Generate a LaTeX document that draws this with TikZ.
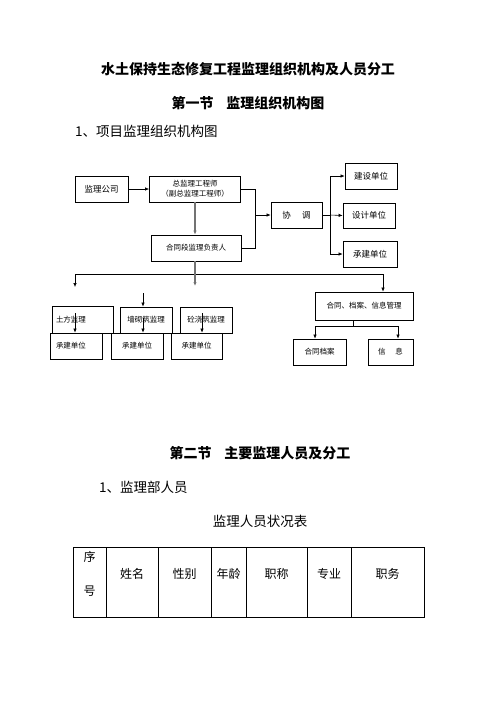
\documentclass[tikz,border=0pt]{standalone}
\usepackage{fontspec}
\setmainfont{Noto Sans CJK SC}
\usetikzlibrary{arrows.meta,positioning}

\begin{document}
\begin{tikzpicture}[x=1pt, y=-1pt,
    box/.style={draw, line width=0.7pt, minimum height=26pt, inner sep=1pt,
                align=center, font=\fontsize{7.5}{10}\selectfont},
    bigbox/.style={box, font=\fontsize{8.5}{10}\selectfont},
    line/.style={-{Latex[length=4pt,width=3.4pt]}, line width=0.6pt},
    bar/.style={line width=0.6pt},
    gline/.style={line, draw=black!55, line width=1.3pt},
    heading/.style={inner sep=0pt, font=\fontsize{14}{16}\selectfont\bfseries},
    bodytext/.style={inner sep=0pt, font=\fontsize{13.5}{16}\selectfont},
    cell/.style={draw, line width=0.8pt, minimum height=70pt, inner sep=0pt,
                 outer sep=0pt},
    celltext/.style={inner sep=0pt, align=center, yshift=8pt,
                     font=\fontsize{12}{14}\selectfont}
]
    \useasboundingbox (0,0) rectangle (496,702);

    % headings
    \node[heading] (title) at (248,69) {水土保持生态修复工程监理组织机构及人员分工};
    \node[heading] (sec1) at (248,103) {第一节\hspace{0.9em}监理组织机构图};
    \node[bodytext, anchor=west] (item1) at (75,131) {1、项目监理组织机构图};

    % chart
    \node[bigbox, minimum width=53pt] (company) at (101.5,189) {监理公司};
    \node[box, minimum width=91pt] (chief) at (195,189) {总监理工程师\\（副总监理工程师）};
    \node[box, minimum width=90pt] (section) at (196,248) {合同段监理负责人};
    \node[bigbox, minimum width=51pt] (coord) at (296.5,215) {协\hspace{1.3em}调};
    \node[bigbox, minimum width=52pt] (owner) at (371,176) {建设单位};
    \node[bigbox, minimum width=52pt, minimum height=25pt] (design) at (369,215.5) {设计单位};
    \node[bigbox, minimum width=54pt] (builder) at (370,254) {承建单位};
    \node[box, minimum width=98pt, minimum height=28pt] (info) at (364,306) {合同、档案、信息管理};
    \node[box, minimum width=53pt] (archive) at (319.5,352) {合同档案};
    \node[box, minimum width=45pt] (news) at (390.5,352) {信\hspace{1.3em}息};
    \node[box, minimum width=61pt, minimum height=27pt, text width=53pt, align=left] (earth) at (82.5,319.5) {土方监理};
    \node[box, minimum width=52pt] (wall) at (146,320) {墙砌筑监理};
    \node[box, minimum width=52pt] (concrete) at (206,320) {砼浇筑监理};
    \node[box, minimum width=52pt, text width=40pt, align=left] (cb1) at (76,346) {承建单位};
    \node[box, minimum width=52pt] (cb2) at (137,346) {承建单位};
    \node[box, minimum width=51pt] (cb3) at (196.5,346) {承建单位};

    \coordinate (bracktop) at (255,189);
    \coordinate (brackbot) at (255,248);
    \coordinate (fork) at (330,215);
    \coordinate (drop) at (195,286);
    \coordinate (busL) at (75,274);
    \coordinate (busR) at (383,274);
    \coordinate (busLend) at (75,287);
    \coordinate (wallin) at (143,293);
    \coordinate (earthin) at (75,313);
    \coordinate (wallin2) at (143,318);
    \coordinate (concin) at (202,313);
    \coordinate (infosplit) at (353,326);
    \coordinate (archL) at (315,326);
    \coordinate (newsR) at (398,326);

    \draw[line] (company) -- (chief);
    \draw[gline] (chief.south -| drop) -- (section.north -| drop);
    \draw[bar] (chief.east) -- (bracktop) -- (brackbot) -- (section.east);
    \draw[line] (bracktop |- coord.west) -- (coord.west);
    \draw[bar] (coord.east) -- (fork);
    \draw[bar] (fork |- owner.west) -- (fork |- builder.west);
    \draw[line] (fork |- owner.west) -- (owner.west);
    \draw[line] (fork) -- (design.west);
    \draw[line] (fork |- builder.west) -- (builder.west);

    \draw[bar] (busL) -- (busR);
    \draw[gline] (section.south -| drop) -- (drop);
    \draw[line] (busL) -- (busLend);
    \draw[line] (busR) -- (busR |- info.north);
    \draw[line] (wallin) -- (wallin |- wall.north);
    \draw[line] (earthin) -- (earthin |- cb1.north);
    \draw[line] (wallin2) -- (wallin2 |- cb2.north);
    \draw[line] (concin) -- (concin |- cb3.north);

    \draw[bar] (infosplit |- info.south) -- (infosplit);
    \draw[bar] (archL) -- (newsR);
    \draw[line] (archL) -- (archL |- archive.north);
    \draw[line] (newsR) -- (newsR |- news.north);

    % section two
    \node[heading] (sec2) at (260,453) {第二节\hspace{0.9em}主要监理人员及分工};
    \node[bodytext, anchor=west] (item2) at (99,487) {1、监理部人员};
    \node[bodytext] (tabcap) at (260,521) {监理人员状况表};

    \node[cell, anchor=north west, minimum width=33pt,
          label={[celltext, font=\fontsize{12}{34}\selectfont]center:序\\号}] (no) at (73,547) {};
    \node[cell, right=0pt of no, minimum width=52pt, label={[celltext]center:姓名}] (name) {};
    \node[cell, right=0pt of name, minimum width=53pt, label={[celltext]center:性别}] (sex) {};
    \node[cell, right=0pt of sex, minimum width=35pt, label={[celltext]center:年龄}] (age) {};
    \node[cell, right=0pt of age, minimum width=61pt, label={[celltext]center:职称}] (rank) {};
    \node[cell, right=0pt of rank, minimum width=44pt, label={[celltext]center:专业}] (major) {};
    \node[cell, right=0pt of major, minimum width=73pt, label={[celltext]center:职务}] (duty) {};
\end{tikzpicture}
\end{document}
